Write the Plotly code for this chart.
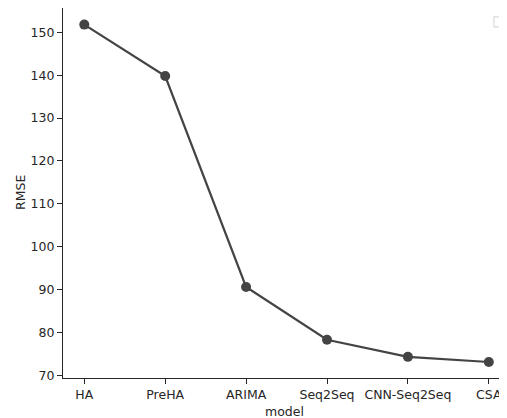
import plotly.graph_objects as go

models = ["HA", "PreHA", "ARIMA", "Seq2Seq", "CNN-Seq2Seq", "CSA"]
rmse = [151.8, 139.8, 90.6, 78.3, 74.3, 73.1]
y_ticks = [70, 80, 90, 100, 110, 120, 130, 140, 150]

fig = go.Figure()
fig.add_trace(go.Scatter(
    x=list(range(len(models))), y=rmse, mode="lines+markers",
    line=dict(color="#444444", width=2.2),
    marker=dict(color="#444444", size=10),
    showlegend=False, hoverinfo="skip",
))

# the page body has an 8px default margin, so the figure is sized to fit
font = dict(family="DejaVu Sans", size=12.5, color="#262626")
fig.update_layout(
    width=499, height=410,
    margin=dict(l=55, r=2, t=0, b=40),
    paper_bgcolor="white", plot_bgcolor="white",
    font=font,
    xaxis=dict(
        range=[-0.263, 5.2], automargin=False,
        tickmode="array", tickvals=list(range(len(models))), ticktext=models,
        showgrid=False, zeroline=False,
        showline=True, linecolor="#262626", linewidth=1.2, mirror=True,
        ticks="outside", ticklen=5, tickwidth=1, tickcolor="#262626",
    ),
    yaxis=dict(
        range=[69.37, 155.67], automargin=False,
        tickmode="array", tickvals=y_ticks,
        showgrid=False, zeroline=False,
        showline=True, linecolor="#262626", linewidth=1.2, mirror=True,
        ticks="outside", ticklen=5, tickwidth=1, tickcolor="#262626",
    ),
)

fig.add_annotation(text="model", xref="paper", yref="paper", x=0.5, y=0,
                   yshift=-33, yanchor="middle", showarrow=False, font=font)
fig.add_annotation(text="RMSE", xref="paper", yref="paper", x=0, y=0.5,
                   xshift=-43, xanchor="center", textangle=-90,
                   showarrow=False, font=font)

# empty legend frame in top-right corner
fig.add_shape(type="rect", xref="paper", yref="paper",
              x0=0.975, x1=0.994, y0=0.949, y1=0.976,
              line=dict(color="#d9d9d9", width=1.2), fillcolor="white")

fig.write_html("out.html")
